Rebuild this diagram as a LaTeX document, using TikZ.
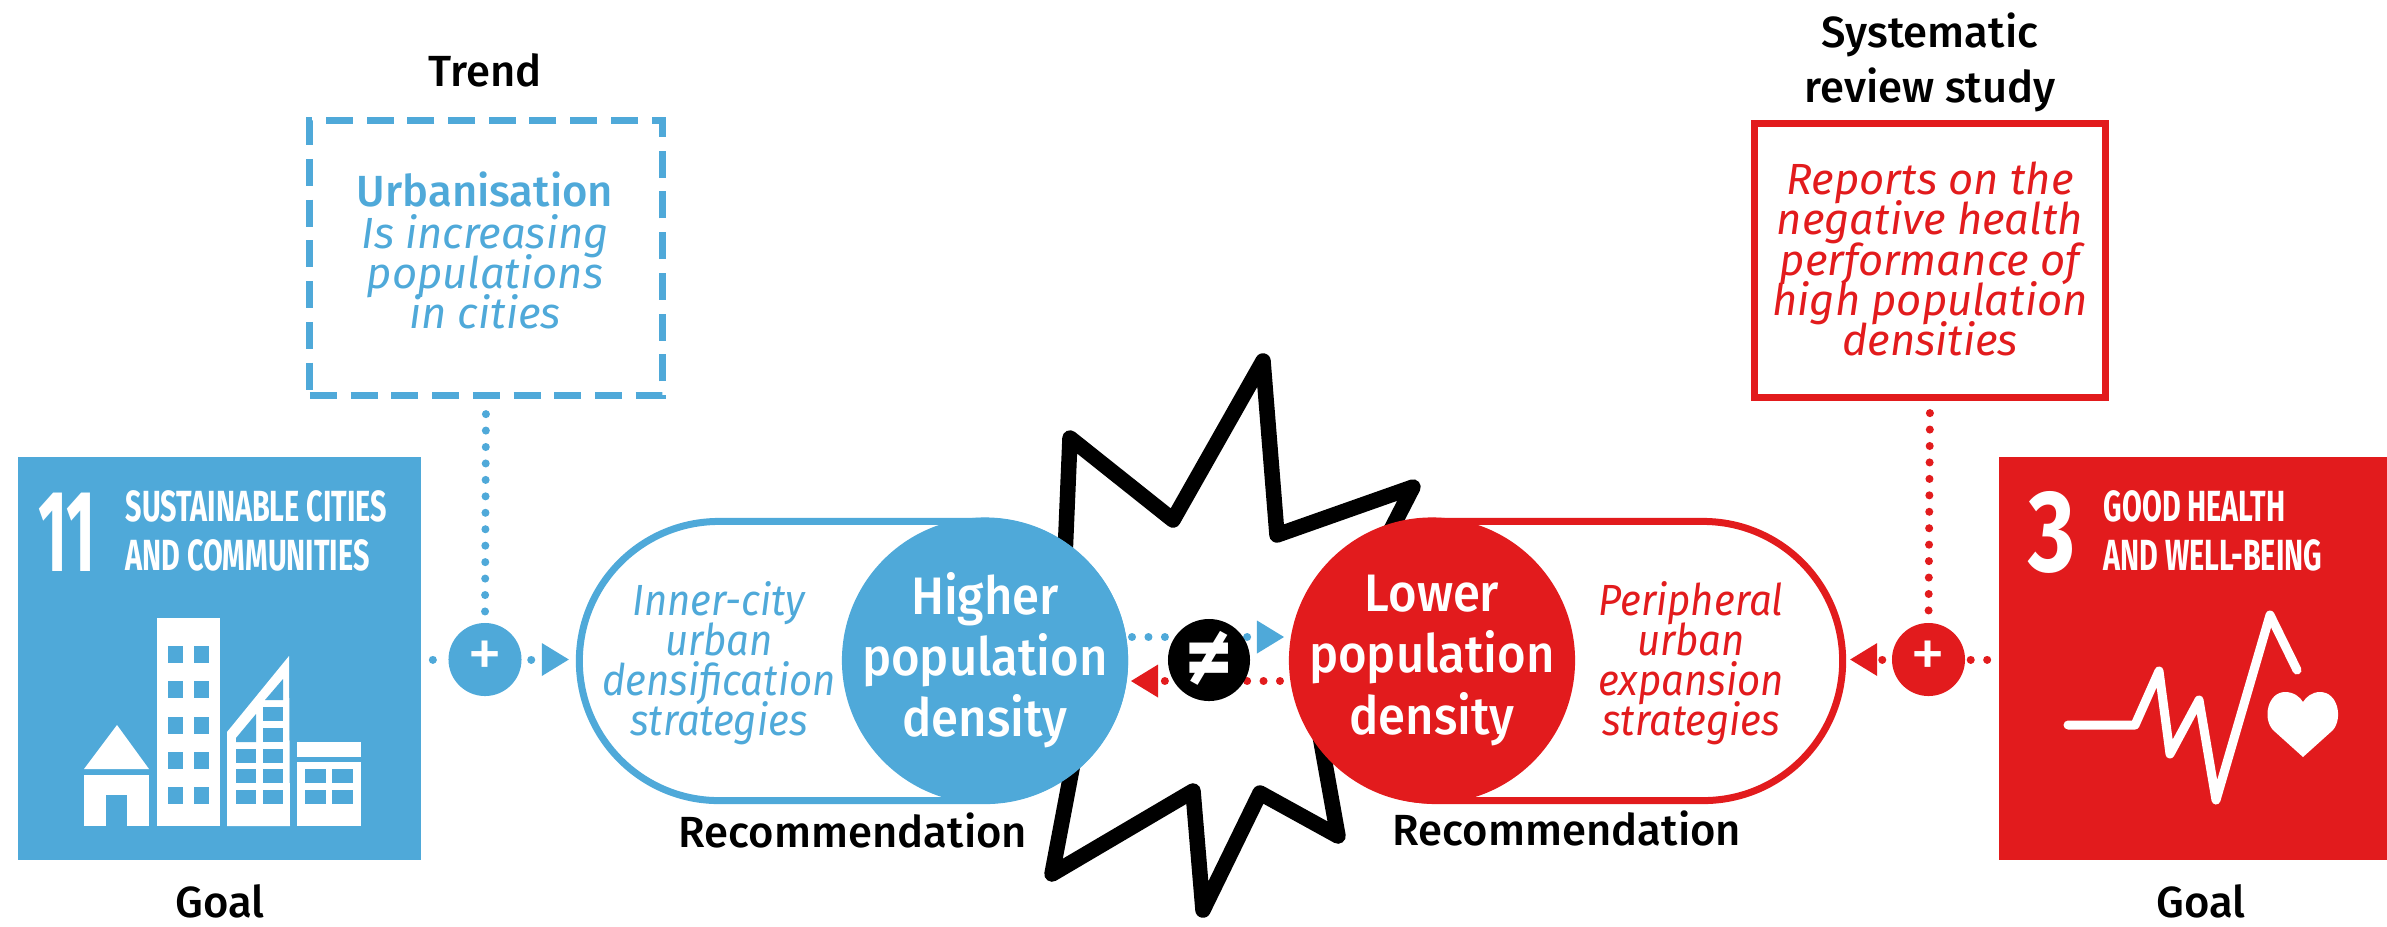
\documentclass[tikz,border=0pt]{standalone}
\usepackage{fontspec}
\setmainfont{Fira Sans Medium}[ItalicFont={Fira Sans Italic}]
\newfontfamily\sdgfont[FakeStretch=.66]{Fira Sans}
\newfontfamily\sdgeleven[FakeStretch=.54]{Fira Sans}
\newfontfamily\sdgthree[FakeStretch=.78]{Fira Sans}
\newfontfamily\densfont[FakeStretch=.93]{Fira Sans Medium}
\newfontfamily\pillfont[FakeStretch=.92]{Fira Sans}
\newfontfamily\clashfont{Fira Sans}
\newcommand{\tightlines}{\lineskiplimit=-20pt\relax}
\usetikzlibrary{arrows.meta}
\definecolor{sdgblue}{HTML}{4FA9D9}
\definecolor{sdgred}{HTML}{E21B1D}
\tikzset{
    goalsquare/.style={rectangle, fill=#1, inner sep=0, minimum width=4.03cm, minimum height=4.03cm},
    sdgnum/.style={anchor=base west, inner sep=0, text=white},
    sdgtitle/.style={anchor=west, inner sep=0, align=left, text=white, font=\sdgfont\bfseries\fontsize{12.4}{13.9}\selectfont},
    caption/.style={inner sep=0, align=center, font=\fontsize{12.4}{15.6}\selectfont},
    slanted/.style={inner sep=0, align=center, text=#1, font=\itshape\fontsize{12.4}{11.4}\selectfont\tightlines},
    pilltext/.style={inner sep=0, align=center, text=#1, font=\pillfont\itshape\fontsize{12.4}{11.4}\selectfont\tightlines},
    pill/.style={rectangle, draw=#1, line width=0.07cm, rounded corners=1.395cm, minimum width=5.45cm, minimum height=2.79cm, inner sep=0},
    densdisc/.style={circle, fill=#1, inner sep=0, minimum size=2.86cm},
    denstext/.style={inner sep=0, align=center, text=white, font=\densfont\fontsize{15}{17.4}\selectfont\tightlines},
    plusdisc/.style={circle, fill=#1, inner sep=0, minimum size=0.73cm, text=white, font=\clashfont\fontsize{20}{20}\selectfont},
    dots/.style={draw=#1, line width=0.08cm, line cap=round, dash pattern=on 0.01pt off 0.164cm},
    tipped/.style={-{Triangle[length=0.27cm, width=0.33cm, line width=0pt, #1]}},
}

\begin{document}
\begin{tikzpicture}[x=0.01cm, y=-0.01cm]
    \useasboundingbox (0,0) rectangle (2387,926);

    \draw[line width=0.155cm, line join=round]
    (1070,438) -- (1173,520) -- (1263,361) -- (1277,535) -- (1413,487) -- (1360,590) -- (1310,680)
    -- (1338,836) -- (1260,793) -- (1203,910) -- (1193,791) -- (1052,874) -- (1085,700) -- (1064,580) -- cycle;

    \coordinate (clashbluefrom) at (1132,637);
    \coordinate (clashblueto) at (1284,637);
    \coordinate (clashredfrom) at (1280,681);
    \coordinate (clashredto) at (1131,681);
    \draw[dots=sdgblue, tipped=sdgblue] (clashbluefrom) -- (clashblueto);
    \draw[dots=sdgred, tipped=sdgred] (clashredfrom) -- (clashredto);
    \node[circle, fill=black, inner sep=0, minimum size=0.82cm, text=white, font=\clashfont\bfseries\fontsize{26}{26}\selectfont] (clash) at (1209,660) {≠};

    \node[goalsquare=sdgblue] (goalcities) at (219.5,658.5) {};
    \node[goalsquare=sdgred, minimum width=3.88cm] (goalhealth) at (2193,658.5) {};
    \node[sdgnum, font=\sdgeleven\bfseries\fontsize{33}{33}\selectfont] (numcities) at (38,571) {11};
    \node[sdgnum, font=\sdgthree\bfseries\fontsize{33}{33}\selectfont] (numhealth) at (2028,571) {3};
    \node[sdgtitle] (titlecities) at (125,531) {SUSTAINABLE CITIES\\AND COMMUNITIES};
    \node[sdgtitle] (titlehealth) at (2103,531) {GOOD HEALTH\\AND WELL-BEING};

    % cities icon
    \fill[white] (84,769) -- (117,725) -- (149,769) -- cycle;
    \fill[white] (84,775) rectangle (149,826);
    \fill[sdgblue] (106,795) rectangle (127,826);
    \fill[white] (157,618) rectangle (220,826);
    \foreach \winy in {646,681,717,752,787} {
        \fill[sdgblue] (168,\winy) rectangle ++(15,16.5);
        \fill[sdgblue] (194,\winy) rectangle ++(15,16.5);
    }
    \fill[white] (227,732) -- (289,656) -- (290,826) -- (227,826) -- cycle;
    \foreach \winy in {749,769,790} {
        \fill[sdgblue] (236,\winy) rectangle ++(20,14);
        \fill[sdgblue] (263,\winy) rectangle ++(20,14);
    }
    \fill[sdgblue] (263,707) rectangle ++(20,14);
    \fill[sdgblue] (263,728) rectangle ++(20,14);
    \fill[sdgblue] (236,738) -- (256,714) -- (256,742) -- (236,742) -- cycle;
    \fill[sdgblue] (283,679) -- (283,700) -- (265,700) -- cycle;
    \fill[white] (297,742) rectangle (361,757);
    \fill[white] (297,762) rectangle (361,826);
    \foreach \winy in {769,790} {
        \fill[sdgblue] (305,\winy) rectangle ++(21,14);
        \fill[sdgblue] (332,\winy) rectangle ++(21,14);
    }

    % health icon
    \draw[white, line width=0.09cm, line cap=round, line join=round]
    (2068,725) -- (2135,725) -- (2159,671) -- (2170,754) -- (2199,700) -- (2216,800) -- (2270,615) -- (2297,670);
    \fill[white] (2303,757) -- (2273,730) .. controls (2262,718) and (2268,692) .. (2285,692)
    .. controls (2294,692) and (2300,697) .. (2303,702) .. controls (2306,697) and (2312,692) .. (2320,692)
    .. controls (2338,692) and (2343,718) .. (2333,730) -- cycle;

    \node[rectangle, draw=sdgblue, line width=0.07cm, dash pattern=on 0.27cm off 0.137cm, inner sep=0, minimum width=3.52cm, minimum height=2.75cm] (trendbox) at (486,258) {};
    \node[rectangle, draw=sdgred, line width=0.07cm, inner sep=0, minimum width=3.51cm, minimum height=2.74cm] (reviewbox) at (1930,260.5) {};

    \node[caption] (trendcap) at (485,70) {Trend};
    \node[caption] (reviewcap) at (1930,62) {Systematic\\review study};
    \node[caption] (recomblue) at (853,830) {Recommendation};
    \node[caption] (recomred) at (1567,828) {Recommendation};
    \node[caption] (goalcap) at (220,901) {Goal};
    \node[caption] (healthcap) at (2201,901) {Goal};

    \node[caption, text=sdgblue] (urbanhead) at (485,189) {Urbanisation};
    \node[slanted=sdgblue] (urbantext) at (485,272) {Is increasing\\populations\\in cities};
    \node[slanted=sdgred] (reviewtext) at (1930,259) {Reports on the\\negative health\\performance of\\high population\\densities};

    \node[pill=sdgblue] (pillblue) at (852,661) {};
    \node[pill=sdgred] (pillred) at (1570,661) {};
    \node[pilltext=sdgblue] (inner) at (719,663) {Inner-city\\urban\\densification\\strategies};
    \node[pilltext=sdgred] (outer) at (1691,663) {Peripheral\\urban\\expansion\\strategies};
    \node[densdisc=sdgblue] (high) at (985,660.5) {};
    \node[densdisc=sdgred] (low) at (1432,660.5) {};
    \node[denstext] (hightext) at (high) {Higher\\population\\density};
    \node[denstext] (lowtext) at (low) {Lower\\population\\density};

    \node[plusdisc=sdgblue] (plusblue) at (485,659.5) {+};
    \node[plusdisc=sdgred] (plusred) at (1928.5,659.5) {+};

    \draw[dots=sdgblue, shorten <=0.15cm] (trendbox.south) -- (plusblue.north);
    \draw[dots=sdgred, shorten <=0.12cm] (reviewbox.south) -- (plusred.north);
    \draw[dots=sdgblue, shorten <=0.11cm] (goalcities.east |- plusblue) -- (plusblue.west);
    \draw[dots=sdgred, shorten <=0.11cm] (goalhealth.west |- plusred) -- (plusred.east);
    \draw[dots=sdgblue, shorten <=0.09cm, shorten >=0.07cm, tipped=sdgblue] (plusblue.east) -- (pillblue.west |- plusblue);
    \draw[dots=sdgred, shorten <=0.09cm, shorten >=0.04cm, tipped=sdgred] (plusred.west) -- (pillred.east |- plusred);
\end{tikzpicture}
\end{document}
